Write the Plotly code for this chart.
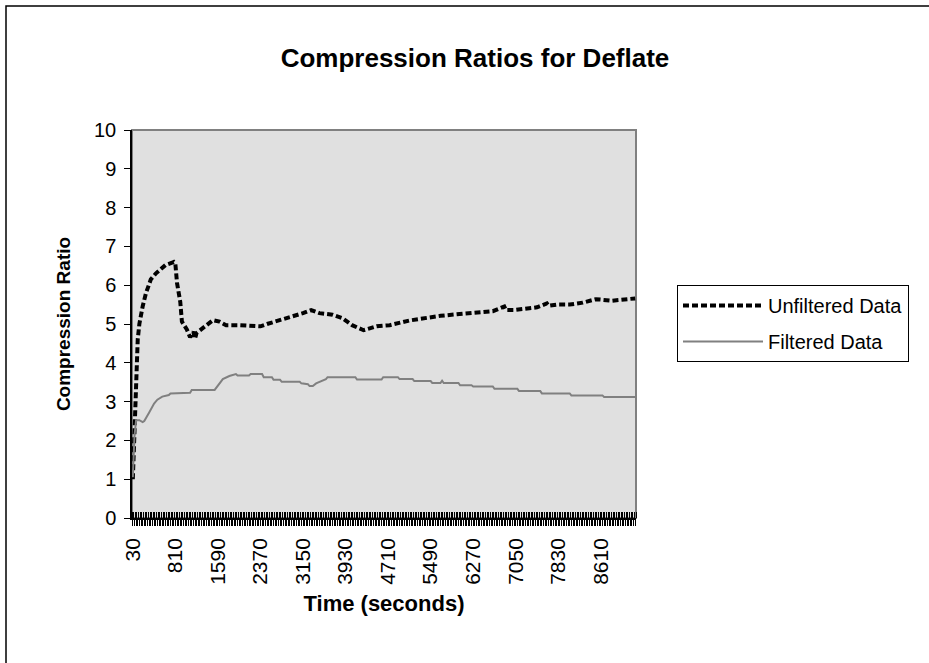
import plotly.graph_objects as go

# ---- data ----
unfiltered_time = [30, 60, 90, 120, 150, 180, 210, 270, 360, 450, 540, 630, 750, 780, 810, 840, 900, 930,
                   1020, 1080, 1140, 1170, 1200, 1320, 1500, 1620, 1740, 1980, 2190, 2370, 2490, 2730, 2970,
                   3150, 3300, 3450, 3690, 3870, 4050, 4260, 4500, 4740, 5100, 5340, 5670, 5970, 6390, 6630,
                   6840, 6870, 7020, 7440, 7620, 7650, 7800, 8040, 8280, 8520, 8820, 9150, 9240]
unfiltered_ratio = [1.0, 2.3, 4.0, 4.6, 5.0, 5.25, 5.45, 5.79, 6.15, 6.3, 6.4, 6.52, 6.58, 6.6, 6.55, 6.06, 5.57, 5.06,
                    4.86, 4.66, 4.8, 4.62, 4.77, 4.9, 5.1, 5.06, 4.97, 4.97, 4.94, 4.94, 5.0, 5.1, 5.19,
                    5.28, 5.36, 5.28, 5.24, 5.15, 4.97, 4.84, 4.94, 4.97, 5.09, 5.15, 5.21, 5.25, 5.29, 5.33,
                    5.45, 5.36, 5.36, 5.43, 5.53, 5.47, 5.5, 5.5, 5.55, 5.64, 5.6, 5.66, 5.66]

filtered_time = [30, 60, 90, 150, 210, 240, 330, 420, 480, 570, 690, 720, 1080, 1110, 1530, 1590, 1680, 1800,
                 1920, 1950, 2160, 2190, 2400, 2430, 2580, 2610, 2730, 2760, 3090, 3120, 3240, 3270, 3330,
                 3390, 3450, 3570, 3600, 4110, 4140, 4590, 4620, 4890, 4920, 5160, 5190, 5490, 5520, 5670,
                 5700, 5730, 6000, 6030, 6240, 6270, 6630, 6660, 7080, 7110, 7500, 7530, 8040, 8070, 8640,
                 8670, 9240]
filtered_ratio = [1.05, 2.1, 2.52, 2.52, 2.47, 2.5, 2.72, 2.95, 3.05, 3.13, 3.17, 3.21, 3.23, 3.3, 3.3, 3.42, 3.58, 3.66,
                  3.71, 3.67, 3.67, 3.71, 3.71, 3.63, 3.63, 3.56, 3.56, 3.51, 3.51, 3.47, 3.45, 3.40, 3.40,
                  3.47, 3.51, 3.58, 3.63, 3.63, 3.57, 3.57, 3.63, 3.63, 3.58, 3.58, 3.53, 3.53, 3.48, 3.48,
                  3.54, 3.48, 3.48, 3.42, 3.42, 3.39, 3.39, 3.33, 3.33, 3.27, 3.27, 3.21, 3.21, 3.16, 3.16,
                  3.12, 3.12]

x_tick_labels = ["30", "810", "1590", "2370", "3150", "3930", "4710", "5490", "6270", "7050", "7830", "8610"]
y_tick_values = [0, 1, 2, 3, 4, 5, 6, 7, 8, 9, 10]
time_step = 30          # seconds per category
n_categories = 308      # 30 .. 9240

# ---- layout constants ----
W, H = 929, 663
ML, MR, MT, MB = 132, 293, 130, 145
PW, PH = W - ML - MR, H - MT - MB
FONT = "Liberation Sans, Arial, sans-serif"

def px_to_paper_x(px):
    return (px - ML) / PW

def px_to_paper_y(py):
    return (H - MB - py) / PH

all_cat = [time_step * (i + 1) for i in range(n_categories)]
label_vals = [int(s) for s in x_tick_labels]
tick_text = [str(t) if t in label_vals else "" for t in all_cat]

fig = go.Figure()
fig.add_trace(go.Scatter(
    x=unfiltered_time, y=unfiltered_ratio, mode="lines", name="Unfiltered Data",
    line=dict(color="black", width=4, dash="6px,3px"), legendgroup="a"))
fig.add_trace(go.Scatter(
    x=filtered_time, y=filtered_ratio, mode="lines", name="Filtered Data",
    line=dict(color="#808080", width=2), legendgroup="b"))

fig.update_layout(
    width=W, height=H,
    margin=dict(l=ML, r=MR, t=MT, b=MB),
    paper_bgcolor="white", plot_bgcolor="#e0e0e0",
    font=dict(family=FONT, color="black", size=18),
    title=dict(text="<b>Compression Ratios for Deflate</b>", x=475 / W, xref="container",
               y=1 - 58 / H, yref="container", xanchor="center", yanchor="middle",
               font=dict(size=26, family=FONT, color="black")),
    showlegend=True,
    legend=dict(x=px_to_paper_x(677), y=px_to_paper_y(285), xanchor="left", yanchor="top",
                bgcolor="white", bordercolor="black", borderwidth=1,
                font=dict(size=20, family=FONT, color="black"),
                itemwidth=80, tracegroupgap=7, traceorder="grouped"),
    xaxis=dict(
        range=[time_step / 2, time_step * n_categories + time_step / 2],
        tickmode="array", tickvals=all_cat, ticktext=tick_text, tickangle=-90,
        ticks="outside", ticklen=6, tickwidth=1, tickcolor="black",
        minor=dict(ticks="inside", ticklen=6, tickwidth=1, tickcolor="black",
                   tick0=time_step / 2, dtick=time_step),
        showline=True, linecolor="black", linewidth=1.5, showgrid=False, zeroline=False,
        tickfont=dict(size=21, family=FONT, color="black"), ticklabelstandoff=4,
        title=dict(text="<b>Time (seconds)</b>", font=dict(size=22, family=FONT, color="black"), standoff=12),
    ),
    yaxis=dict(
        range=[0, 10], tickmode="array", tickvals=y_tick_values,
        ticks="outside", ticklen=6, tickwidth=1, tickcolor="black",
        showline=True, linecolor="black", linewidth=1.5, showgrid=False, zeroline=False,
        tickfont=dict(size=20, family=FONT, color="black"), ticklabelstandoff=4,
        title=dict(text="<b>Compression Ratio</b>", font=dict(size=19, family=FONT, color="black"), standoff=18),
    ),
    shapes=[
        # plot area frame (top/right gray)
        dict(type="rect", xref="paper", yref="paper", x0=0, y0=0, x1=1, y1=1,
             line=dict(color="#808080", width=2), layer="below"),
        # outer chart border
        dict(type="rect", xref="paper", yref="paper",
             x0=px_to_paper_x(6), y0=px_to_paper_y(672), x1=px_to_paper_x(940), y1=px_to_paper_y(6),
             line=dict(color="black", width=1.5)),
    ],
)

fig.write_html("out.html")
